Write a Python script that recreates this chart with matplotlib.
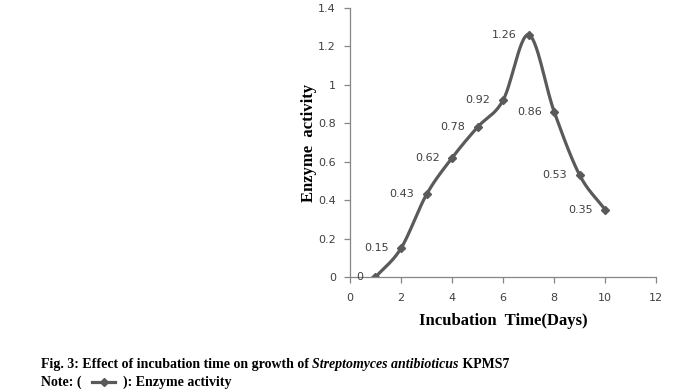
import numpy as np
from matplotlib import pyplot as plt
from matplotlib.lines import Line2D

days = [1, 2, 3, 4, 5, 6, 7, 8, 9, 10]
activity = [0, 0.15, 0.43, 0.62, 0.78, 0.92, 1.26, 0.86, 0.53, 0.35]
x_ticks = [0, 2, 4, 6, 8, 10, 12]
y_ticks = [0, 0.2, 0.4, 0.6, 0.8, 1, 1.2, 1.4]

LINE_COLOR = '#5a5a5a'
AXIS_COLOR = '#868686'
TICK_TEXT = '#404040'


def smooth_curve(xs, ys, steps=30):
    # Excel-like smoothed line: Catmull-Rom through the points
    px = np.array(xs, dtype=float)
    py = np.array(ys, dtype=float)
    px = np.concatenate([[2 * px[0] - px[1]], px, [2 * px[-1] - px[-2]]])
    py = np.concatenate([[2 * py[0] - py[1]], py, [2 * py[-1] - py[-2]]])
    out_x, out_y = [], []
    t = np.linspace(0, 1, steps)
    for i in range(1, len(px) - 2):
        for arr, out in ((px, out_x), (py, out_y)):
            p0, p1, p2, p3 = arr[i - 1], arr[i], arr[i + 1], arr[i + 2]
            seg = 0.5 * ((2 * p1) + (-p0 + p2) * t
                         + (2 * p0 - 5 * p1 + 4 * p2 - p3) * t ** 2
                         + (-p0 + 3 * p1 - 3 * p2 + p3) * t ** 3)
            out.extend(seg)
    return out_x, out_y


fig = plt.figure(figsize=(6.93, 3.92), dpi=100)
ax = fig.add_axes([0.505, 0.293, 0.442, 0.687])

sx, sy = smooth_curve(days, activity)
ax.plot(sx, sy, color=LINE_COLOR, linewidth=2.3, solid_capstyle='round')
ax.plot(days, activity, linestyle='none', marker='D', markersize=4.5,
        color=LINE_COLOR)

for d, v in zip(days, activity):
    ax.annotate(f'{v:g}', (d, v), xytext=(-9, 0), textcoords='offset points',
                ha='right', va='center', fontsize=8, color=TICK_TEXT,
                family='DejaVu Sans')

ax.set_xlim(0, 12)
ax.set_ylim(0, 1.4)
ax.set_xticks(x_ticks)
ax.set_yticks(y_ticks)
ax.set_xticklabels([str(t) for t in x_ticks])
ax.set_yticklabels([f'{t:g}' for t in y_ticks])
for s in ['top', 'right']:
    ax.spines[s].set_visible(False)
for s in ['left', 'bottom']:
    ax.spines[s].set_color(AXIS_COLOR)
    ax.spines[s].set_linewidth(0.9)
ax.tick_params(colors=AXIS_COLOR, labelcolor=TICK_TEXT, labelsize=8,
               length=4, width=0.9)
ax.tick_params(axis='x', pad=7.5)
ax.tick_params(axis='y', pad=6)
for lab in ax.get_xticklabels() + ax.get_yticklabels():
    lab.set_family('DejaVu Sans')

ax.set_xlabel('Incubation  Time(Days)', family='Liberation Serif',
              fontweight='bold', fontsize=12, labelpad=7)
ax.set_ylabel('Enzyme  activity', family='Liberation Serif',
              fontweight='bold', fontsize=12, labelpad=1)

# caption lines
renderer = fig.canvas.get_renderer()


def write_parts(x_px, y_px, parts):
    for text, style in parts:
        t = fig.text(x_px / 693, 1 - y_px / 392, text, family='Liberation Serif',
                     fontweight='bold', fontstyle=style, fontsize=10,
                     va='baseline', ha='left')
        bb = t.get_window_extent(renderer)
        x_px += bb.width
    return x_px


write_parts(41, 368, [('Fig. 3: Effect of incubation time on growth of ', 'normal'),
                      ('Streptomyces antibioticus', 'italic'),
                      (' KPMS7', 'normal')])
xe = write_parts(41, 386, [('Note: ( ', 'normal')])
y_n = 1 - 382 / 392
fig.add_artist(Line2D([(xe + 7) / 693, (xe + 30) / 693], [y_n, y_n],
                      transform=fig.transFigure, color=LINE_COLOR, linewidth=2.3))
fig.add_artist(Line2D([(xe + 18.5) / 693], [y_n], transform=fig.transFigure,
                      marker='D', markersize=4, color=LINE_COLOR))
write_parts(xe + 38, 386, [('): Enzyme activity', 'normal')])

fig.savefig('out.png', dpi=100)
plt.close(fig)
